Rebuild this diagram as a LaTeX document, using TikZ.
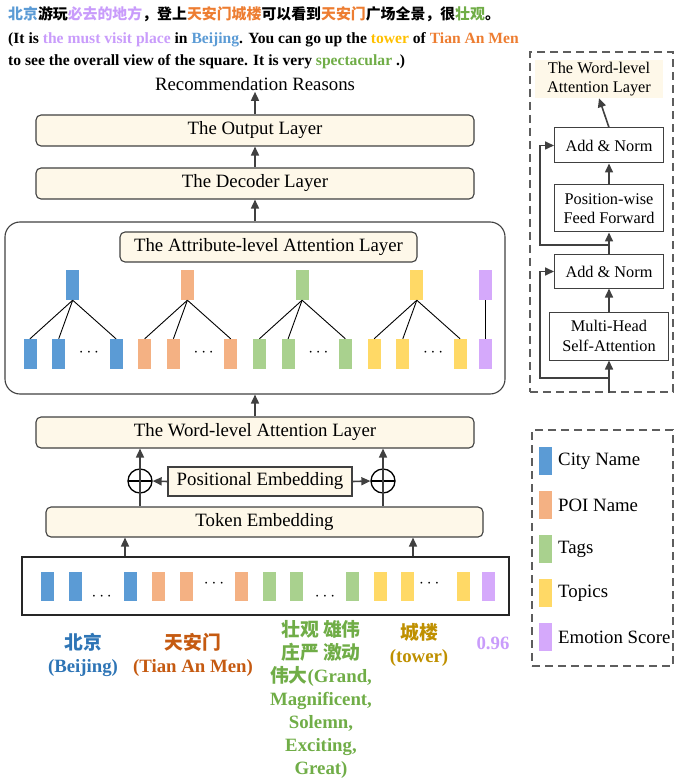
\documentclass[tikz,border=0pt]{standalone}
\usepackage{fontspec}
\setmainfont{Liberation Serif}
\newfontfamily\cjk{Noto Sans CJK SC}
\usetikzlibrary{arrows.meta,calc}

\definecolor{cityblue}{HTML}{5B9BD5}
\definecolor{poiorange}{HTML}{F4B183}
\definecolor{taggreen}{HTML}{A9D18E}
\definecolor{topicyellow}{HTML}{FFD966}
\definecolor{emopurple}{HTML}{D5A9FB}
\definecolor{layercream}{HTML}{FEF8E9}
\definecolor{linegray}{HTML}{404040}
\definecolor{txtblue}{HTML}{2E75B6}
\definecolor{txtorange}{HTML}{C55A11}
\definecolor{txtgreen}{HTML}{70AD47}
\definecolor{txtgold}{HTML}{BF9000}
\definecolor{txtpurple}{HTML}{C99CFB}
\definecolor{hiorange}{HTML}{ED7D31}
\definecolor{hiyellow}{HTML}{FFC000}

\newcommand*{\BigFont}{\fontsize{18.8}{23}\selectfont}
\newcommand*{\SmallFont}{\fontsize{16.3}{19.5}\selectfont}
\newcommand*{\TopFont}{\fontsize{15.6}{18}\selectfont}
\newcommand*{\ZhFont}{\fontsize{14.9}{18}\selectfont}
\newcommand*{\InputBars}[1]{% #1 = list of x/color/name
  \foreach \x/\color/\name in {#1} {
    \node [bar, fill=\color] (\name) at (\x,586.5) {};
    }%
}

\tikzset{
  bar/.style={draw=none, minimum width=13, minimum height=29, inner sep=0},
  layer/.style={draw=linegray, fill=layercream, rounded corners=5, line width=1.1,
    font=\BigFont, inner sep=0},
  block/.style={draw=linegray, fill=white, line width=1, font=\SmallFont,
    align=center, inner sep=0},
  arr/.style={-{Triangle[length=9pt,width=8pt]}, draw=linegray, line width=1.6},
  link/.style={draw=black, line width=0.9},
  dashbox/.style={draw=linegray!85, dash pattern=on 8pt off 5pt, line width=1.3,
    inner sep=0},
  oplus/.style={circle, draw=black, line width=1.3, minimum size=24, inner sep=0,
    path picture={\draw[line width=1.3] (path picture bounding box.west)
      -- (path picture bounding box.east);}},
  tagtext/.style={font=\BigFont\bfseries, align=center, inner sep=0}
}

\begin{document}
\begin{tikzpicture}[x=1pt,y=-1pt]
  \useasboundingbox (0,0) rectangle (674,783);

  % example sentence
  \node[anchor=base west, inner sep=0, font=\ZhFont\cjk\bfseries] (zh) at (8,20)
    {\textcolor{cityblue}{北京}游玩\textcolor{txtpurple}{必去的地方}，登上\textcolor{hiorange}{天安门城楼}可以看到\textcolor{hiorange}{天安门}广场全景，很\textcolor{txtgreen}{壮观}。};
  \node[anchor=base west, inner sep=0, font=\TopFont\bfseries] (en1) at (8,43.5)
    {(It is \textcolor{txtpurple}{the must visit place} in \textcolor{cityblue}{Beijing}. You can go up the \textcolor{hiyellow}{tower} of \textcolor{hiorange}{Tian An Men}};
  \node[anchor=base west, inner sep=0, font=\TopFont\bfseries] (en2) at (8,66)
    {to see the overall view of the square. It is very \textcolor{txtgreen}{spectacular} .)};

  % decoder side
  \node[font=\BigFont, inner sep=1] (reasons) at (255,84) {Recommendation Reasons};
  \node[layer, minimum width=438, minimum height=31] (output) at (255,130.5) {The Output Layer};
  \node[layer, minimum width=438, minimum height=31] (decoder) at (255,183.5) {The Decoder Layer};
  \node[draw=linegray, line width=1.1, rounded corners=15, minimum width=500,
    minimum height=172] (attbox) at (255,308) {};
  \node[layer, minimum width=297, minimum height=30] (attlayer) at (268.5,247)
    {The Attribute-level Attention Layer};
  \draw[arr] (output.north) -- (reasons.south);
  \draw[arr] (decoder.north) -- (output.south);
  \draw[arr] (attbox.north) -- (decoder.south);

  % attribute groups
  \foreach \g/\color in {0/cityblue,1/poiorange,2/taggreen,3/topicyellow} {
    \pgfmathsetmacro{\base}{30+114.7*\g}
    \node[bar, minimum height=30, fill=\color] (top\g) at (\base+42.7,285) {};
    \foreach \o [count=\i] in {0,28.7,86} {
      \node[bar, minimum height=30, fill=\color] (low\g-\i) at (\base+\o,354) {};
      \draw[link] (top\g.south) -- (low\g-\i.north);
    }
    \node[font=\SmallFont, inner sep=0] (dots\g) at (\base+59,353) {$\cdots$};
  }
  \node[bar, minimum height=30, fill=emopurple] (top4) at (485.3,285) {};
  \node[bar, minimum height=30, fill=emopurple] (low4) at (485.3,354) {};
  \draw[link] (top4.south) -- (low4.north);

  % encoder side
  \node[layer, minimum width=438, minimum height=31] (word) at (255,432.5)
    {The Word-level Attention Layer};
  \node[draw=linegray, fill=layercream, line width=1.1, font=\BigFont, inner sep=0,
    minimum width=184, minimum height=29] (pos) at (260,481.5) {Positional Embedding};
  \node[oplus] (plusl) at (140,481) {};
  \node[oplus] (plusr) at (383,481) {};
  \node[layer, minimum width=437, minimum height=30] (token) at (264.5,522) {Token Embedding};
  \node[draw=black!85, line width=1.1, fill=white, minimum width=487,
    minimum height=58] (input) at (265.5,586) {};
  \draw[arr] (word.north) -- (attbox.south);
  \draw[arr] (token.north -| plusl) -- (word.south -| plusl);
  \draw[arr] (token.north -| plusr) -- (word.south -| plusr);
  \draw[arr] (pos.west) -- (plusl.east);
  \draw[arr] (pos.east) -- (plusr.west);
  \coordinate (tapl) at (125,0);
  \coordinate (tapr) at (413,0);
  \draw[arr] (input.north -| tapl) -- (token.south -| tapl);
  \draw[arr] (input.north -| tapr) -- (token.south -| tapr);

  \InputBars{47.3/cityblue/in1,75.3/cityblue/in2,130.3/cityblue/in3,
    158.3/poiorange/in4,186/poiorange/in5,241.3/poiorange/in6,
    269/taggreen/in7,296.7/taggreen/in8,352.3/taggreen/in9,
    380/topicyellow/in10,407.3/topicyellow/in11,463.3/topicyellow/in12,
    488.3/emopurple/in13}
  \foreach \x/\y [count=\i] in {101.7/597,214/584,325/597,429.3/584} {
    \node[font=\SmallFont, inner sep=0] (indots\i) at (\x,\y) {$\cdots$};
  }

  % attribute values
  \node[tagtext, text=txtblue] (bj) at (83,655) {{\cjk 北京}\\(Beijing)};
  \node[tagtext, text=txtorange] (tam) at (193,655) {{\cjk 天安门}\\(Tian An Men)};
  \node[tagtext, text=txtgreen] (tags) at (321,699)
    {{\cjk 壮观 雄伟}\\{\cjk 庄严 激动}\\{\cjk 伟大}(Grand,\\Magnificent,\\Solemn,\\Exciting,\\Great)};
  \node[tagtext, text=txtgold] (tower) at (419,645) {{\cjk 城楼}\\(tower)};
  \node[tagtext, text=txtpurple] (score) at (493,643) {0.96};

  % word-level attention layer detail
  \node[dashbox, minimum width=143, minimum height=340] (encbox) at (601.5,222) {};
  \node[fill=layercream, font=\SmallFont, align=center, inner sep=0, minimum width=128,
    minimum height=38] (wl) at (599,79) {The Word-level\\Attention Layer};
  \node[block, minimum width=109, minimum height=35] (an2) at (609,145.5) {Add \& Norm};
  \node[block, minimum width=109, minimum height=47] (ffn) at (609,208.5)
    {Position-wise\\Feed Forward};
  \node[block, minimum width=109, minimum height=33] (an1) at (609,271.5) {Add \& Norm};
  \node[block, minimum width=119, minimum height=48] (mha) at (609,336)
    {Multi-Head\\Self-Attention};
  \coordinate (encin) at (609,393);
  \coordinate (res1) at (609,378);
  \coordinate (res2) at (609,245);
  \coordinate (lane) at (540,0);
  \draw[arr] (encin) -- (mha.south);
  \draw[arr] (mha.north) -- (an1.south);
  \draw[arr] (an1.north) -- (ffn.south);
  \draw[arr] (ffn.north) -- (an2.south);
  \draw[arr] (an2.north) -- (wl.south);
  \draw[arr] (res1) -- (res1 -| lane) |- (an1.west);
  \draw[arr] (res2) -- (res2 -| lane) |- (an2.west);

  % legend
  \node[dashbox, minimum width=141, minimum height=236] (legend) at (602.5,548) {};
  \foreach \y/\color/\lbl in {461/cityblue/City Name,505/poiorange/POI Name,
      549/taggreen/Tags,593/topicyellow/Topics,637/emopurple/Emotion Score} {
    \node[bar, minimum height=28, fill=\color] (sw\y) at (545.5,\y) {};
    \node[anchor=west, font=\BigFont, inner sep=0] (lg\y) at (558,\y) {\lbl};
  }
\end{tikzpicture}
\end{document}
